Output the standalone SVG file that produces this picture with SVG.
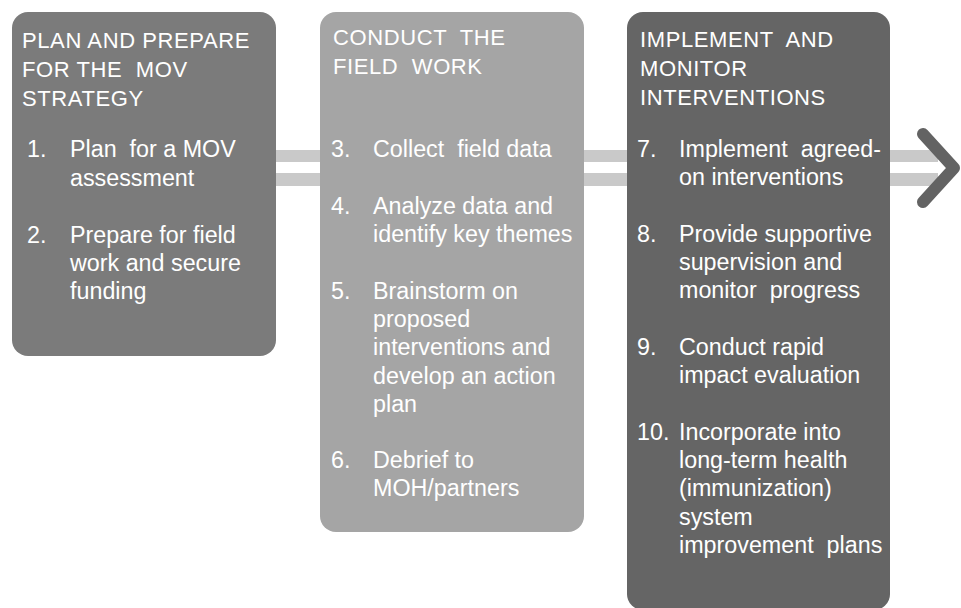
<svg xmlns="http://www.w3.org/2000/svg" width="961" height="608" viewBox="0 0 961 608">
<style>
text{font-family:"Liberation Sans",Arial,sans-serif;fill:#ffffff;white-space:pre}
.h{font-size:22px;letter-spacing:0.6px}
.t{font-size:23.3px}
.bar{fill:#c9c9c9}
</style>
<rect width="961" height="608" fill="#ffffff"/>
<g id="connectors">
<rect class="bar" x="270" y="150" width="668" height="12"/>
<rect class="bar" x="270" y="173" width="668" height="13"/>
<polyline points="923,134 954,168 923,202" fill="none" stroke="#636363" stroke-width="12" stroke-linecap="round" stroke-linejoin="round"/>
</g>
<g id="node-plan">
<rect x="12" y="12" width="264" height="344" rx="16" fill="#7b7b7b"/>
<text class="h" x="22" y="48">PLAN AND PREPARE</text>
<text class="h" x="22" y="77">FOR THE  MOV</text>
<text class="h" x="22" y="106">STRATEGY</text>
<text class="t" x="27" y="157">1.</text>
<text class="t" x="70" y="157">Plan  for a MOV</text>
<text class="t" x="70" y="186">assessment</text>
<text class="t" x="27" y="243">2.</text>
<text class="t" x="70" y="243">Prepare for field</text>
<text class="t" x="70" y="271">work and secure</text>
<text class="t" x="70" y="299">funding</text>
</g>
<g id="node-field">
<rect x="320" y="12" width="264" height="520" rx="16" fill="#a5a5a5"/>
<text class="h" x="333" y="45">CONDUCT  THE</text>
<text class="h" x="333" y="74">FIELD  WORK</text>
<text class="t" x="331" y="157">3.</text>
<text class="t" x="373" y="157">Collect  field data</text>
<text class="t" x="331" y="214">4.</text>
<text class="t" x="373" y="214">Analyze data and</text>
<text class="t" x="373" y="242">identify key themes</text>
<text class="t" x="331" y="299">5.</text>
<text class="t" x="373" y="299">Brainstorm on</text>
<text class="t" x="373" y="327">proposed</text>
<text class="t" x="373" y="355">interventions and</text>
<text class="t" x="373" y="384">develop an action</text>
<text class="t" x="373" y="412">plan</text>
<text class="t" x="331" y="468">6.</text>
<text class="t" x="373" y="468">Debrief to</text>
<text class="t" x="373" y="496">MOH/partners</text>
</g>
<g id="node-implement">
<rect x="627" y="12" width="263" height="598" rx="16" fill="#656565"/>
<text class="h" x="640" y="47">IMPLEMENT  AND</text>
<text class="h" x="640" y="76">MONITOR</text>
<text class="h" x="640" y="105">INTERVENTIONS</text>
<text class="t" x="637" y="157">7.</text>
<text class="t" x="679" y="157">Implement  agreed-</text>
<text class="t" x="679" y="185">on interventions</text>
<text class="t" x="637" y="242">8.</text>
<text class="t" x="679" y="242">Provide supportive</text>
<text class="t" x="679" y="270">supervision and</text>
<text class="t" x="679" y="298">monitor  progress</text>
<text class="t" x="637" y="355">9.</text>
<text class="t" x="679" y="355">Conduct rapid</text>
<text class="t" x="679" y="383">impact evaluation</text>
<text class="t" x="637" y="440">10.</text>
<text class="t" x="679" y="440">Incorporate into</text>
<text class="t" x="679" y="468">long-term health</text>
<text class="t" x="679" y="496">(immunization)</text>
<text class="t" x="679" y="525">system</text>
<text class="t" x="679" y="553">improvement  plans</text>
</g>
</svg>
